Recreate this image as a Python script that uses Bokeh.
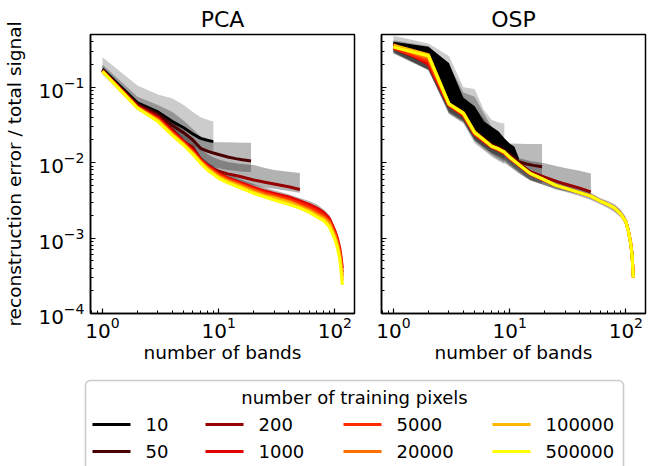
from bokeh.plotting import figure
from bokeh.layouts import column, row
from bokeh.models import Range1d, Quad
from bokeh.core.properties import value
from bokeh.embed import file_html
from bokeh.resources import INLINE

# ---------------- data ----------------
pixels = ["10", "50", "200", "1000", "5000", "20000", "100000", "500000"]
colors = ["#000000", "#4a0000", "#950000", "#e00000", "#ff2a00", "#ff7000", "#ffb800", "#ffff00"]

bands_10 = [1, 2, 3, 4, 5, 6, 7, 8, 9]
bands_50 = [1, 2, 3, 4, 5, 6, 7, 8, 9, 10, 12, 14, 16, 19]
bands_200 = [1, 2, 3, 4, 5, 6, 7, 8, 9, 10, 12, 15, 20, 25, 30, 40, 50]
bands_all = [1, 2, 3, 4, 5, 6, 7, 8, 9, 10, 12, 15, 20, 25, 30, 40, 50, 60, 70, 80, 90, 100, 105, 110, 113, 116]
bands_dark = [1, 2, 3, 4, 5, 6, 7, 8, 9, 10, 11, 12]

# PCA median curves
pca_10 = [0.172, 0.062, 0.047, 0.035, 0.029, 0.024, 0.021, 0.0198, 0.019]
pca_50 = [0.168, 0.059, 0.044, 0.031, 0.025, 0.020, 0.0155, 0.0142, 0.0134, 0.0128, 0.0119, 0.0113, 0.0109, 0.0105]
pca_200 = [0.166, 0.057, 0.041, 0.027, 0.019, 0.016, 0.011, 0.0093, 0.0083, 0.0077, 0.0071, 0.0066, 0.0059, 0.0055, 0.0052, 0.0048, 0.0044]
pca_1000 = [0.165, 0.055, 0.039, 0.026, 0.0190, 0.0145, 0.0110, 0.0092, 0.0081, 0.0072, 0.0063, 0.0055, 0.0047, 0.0042, 0.0039, 0.0035, 0.0031, 0.0028, 0.0025, 0.0022, 0.0018, 0.00125, 0.0010, 0.00075, 0.00057, 0.00040]
pca_5000 = [0.164, 0.054, 0.038, 0.025, 0.0184, 0.0140, 0.0107, 0.0089, 0.0078, 0.0070, 0.0061, 0.0053, 0.0045, 0.0040, 0.0037, 0.0033, 0.0029, 0.0026, 0.0023, 0.0020, 0.0017, 0.00117, 0.00093, 0.00069, 0.00051, 0.00035]
pca_20000 = [0.164, 0.054, 0.037, 0.024, 0.0179, 0.0136, 0.0104, 0.0086, 0.0075, 0.0067, 0.0058, 0.0051, 0.0043, 0.0038, 0.0035, 0.0031, 0.0027, 0.0024, 0.0021, 0.0019, 0.0016, 0.00110, 0.00087, 0.00063, 0.00046, 0.00031]
pca_100000 = [0.163, 0.053, 0.036, 0.0235, 0.0174, 0.0132, 0.0101, 0.0083, 0.0072, 0.0065, 0.0056, 0.0049, 0.0041, 0.0036, 0.0034, 0.0030, 0.0026, 0.0023, 0.0020, 0.0018, 0.0015, 0.00103, 0.00081, 0.00058, 0.00042, 0.00027]
pca_500000 = [0.162, 0.053, 0.035, 0.023, 0.0170, 0.0128, 0.0098, 0.0080, 0.0070, 0.0062, 0.0054, 0.0047, 0.0039, 0.0035, 0.0032, 0.0028, 0.0025, 0.0022, 0.0019, 0.0017, 0.0014, 0.00096, 0.00075, 0.00053, 0.00037, 0.00024]

# PCA spread (lower / upper)
pca_10_lo = [0.150, 0.052, 0.040, 0.027, 0.021, 0.017, 0.0145, 0.0135, 0.013]
pca_10_hi = [0.25, 0.105, 0.080, 0.071, 0.058, 0.047, 0.040, 0.037, 0.035]
pca_50_lo = [0.150, 0.052, 0.036, 0.024, 0.019, 0.0140, 0.0105, 0.0092, 0.0087, 0.0084, 0.0080, 0.0078, 0.0076, 0.0075]
pca_50_hi = [0.20, 0.075, 0.058, 0.047, 0.036, 0.028, 0.022, 0.0195, 0.0188, 0.0186, 0.0186, 0.0185, 0.0184, 0.0183]
pca_200_lo = [0.15, 0.052, 0.036, 0.023, 0.017, 0.0130, 0.0095, 0.0080, 0.0072, 0.0067, 0.0060, 0.0055, 0.0050, 0.0047, 0.0045, 0.0042, 0.0040]
pca_200_hi = [0.19, 0.065, 0.048, 0.034, 0.026, 0.020, 0.015, 0.013, 0.0118, 0.0110, 0.0102, 0.0097, 0.0093, 0.0085, 0.0080, 0.0076, 0.0073]
pca_all_lo = [0.155, 0.050, 0.034, 0.022, 0.0163, 0.0123, 0.0094, 0.0077, 0.0067, 0.0060, 0.0052, 0.0045, 0.0038, 0.0034, 0.0031, 0.0027, 0.0024, 0.0021, 0.00185, 0.00163, 0.00134, 0.00092, 0.00072, 0.00051, 0.00036, 0.00023]
pca_all_hi = [0.18, 0.060, 0.043, 0.029, 0.021, 0.016, 0.0122, 0.0102, 0.0090, 0.0080, 0.0070, 0.0061, 0.0052, 0.0047, 0.0043, 0.0038, 0.0034, 0.0031, 0.0028, 0.0024, 0.0020, 0.00140, 0.00112, 0.00083, 0.00063, 0.00044]

# OSP median curves
osp_10 = [0.37, 0.32, 0.15, 0.060, 0.045, 0.030, 0.025, 0.021, 0.018]
osp_50 = [0.33, 0.23, 0.060, 0.046, 0.026, 0.021, 0.0175, 0.016, 0.0145, 0.0128, 0.0103, 0.0096, 0.0092, 0.0088]
osp_200 = [0.33, 0.21, 0.058, 0.044, 0.025, 0.020, 0.0168, 0.0152, 0.0138, 0.0120, 0.0098, 0.0076, 0.0064, 0.0057, 0.0052, 0.0046, 0.0041]
osp_1000 = [0.37, 0.20, 0.057, 0.042, 0.0235, 0.019, 0.0160, 0.0146, 0.0133, 0.0114, 0.0092, 0.0071, 0.0058, 0.0050, 0.0046, 0.0040, 0.0036, 0.0031, 0.0028, 0.0025, 0.0021, 0.00167, 0.00127, 0.00087, 0.00062, 0.00031]
osp_5000 = [0.33, 0.22, 0.058, 0.043, 0.024, 0.0195, 0.0162, 0.0148, 0.0135, 0.0116, 0.0093, 0.0071, 0.0058, 0.0050, 0.0046, 0.0040, 0.0036, 0.0031, 0.0028, 0.0025, 0.0021, 0.00166, 0.00126, 0.00086, 0.00061, 0.00030]
osp_20000 = [0.35, 0.24, 0.059, 0.044, 0.0245, 0.0198, 0.0164, 0.0150, 0.0137, 0.0117, 0.0094, 0.0072, 0.0059, 0.0050, 0.0046, 0.0040, 0.0036, 0.0031, 0.0028, 0.0025, 0.0021, 0.00165, 0.00125, 0.00085, 0.0006, 0.0003]
osp_100000 = [0.36, 0.27, 0.061, 0.046, 0.0255, 0.0202, 0.0166, 0.0153, 0.0139, 0.0119, 0.0095, 0.0072, 0.0059, 0.0050, 0.0046, 0.0040, 0.0036, 0.0031, 0.0028, 0.0025, 0.0021, 0.00165, 0.00125, 0.00085, 0.0006, 0.0003]
osp_500000 = [0.34, 0.26, 0.060, 0.045, 0.025, 0.020, 0.0165, 0.0152, 0.0138, 0.0118, 0.0094, 0.0072, 0.0059, 0.0050, 0.0046, 0.0040, 0.0036, 0.0031, 0.0028, 0.0025, 0.0021, 0.00165, 0.00125, 0.00085, 0.0006, 0.00030]

# OSP spread (lower / upper)
osp_10_lo = [0.28, 0.166, 0.044, 0.033, 0.018, 0.0145, 0.012, 0.0105, 0.0095]
osp_10_hi = [0.48, 0.38, 0.26, 0.10, 0.095, 0.050, 0.037, 0.034, 0.033]
osp_50_lo = [0.28, 0.17, 0.045, 0.034, 0.019, 0.015, 0.0125, 0.011, 0.0100, 0.0088, 0.0072, 0.0062, 0.0057, 0.0053]
osp_50_hi = [0.42, 0.35, 0.20, 0.085, 0.075, 0.045, 0.030, 0.024, 0.020, 0.0180, 0.0178, 0.0177, 0.0177, 0.0177]
osp_200_lo = [0.29, 0.17, 0.046, 0.035, 0.020, 0.016, 0.0132, 0.0118, 0.0105, 0.0092, 0.0074, 0.0058, 0.0050, 0.0045, 0.0042, 0.0038, 0.0035]
osp_200_hi = [0.38, 0.30, 0.14, 0.075, 0.055, 0.038, 0.028, 0.022, 0.018, 0.015, 0.0115, 0.0105, 0.0098, 0.0090, 0.0085, 0.0078, 0.0072]
osp_all_lo = [0.29, 0.17, 0.048, 0.036, 0.020, 0.016, 0.0135, 0.0123, 0.0112, 0.0096, 0.0077, 0.0059, 0.0050, 0.0044, 0.0041, 0.0036, 0.0032, 0.0028, 0.0025, 0.0022, 0.0019, 0.0015, 0.00112, 0.00076, 0.00054, 0.00027]
osp_all_hi = [0.40, 0.30, 0.085, 0.055, 0.031, 0.024, 0.020, 0.0175, 0.0155, 0.0132, 0.0104, 0.0080, 0.0065, 0.0056, 0.0051, 0.0045, 0.0040, 0.0034, 0.0031, 0.0028, 0.0024, 0.0019, 0.00142, 0.00097, 0.00068, 0.00034]
# dark (10-pixel trial) envelope in OSP
osp_dark_lo = [0.33, 0.25, 0.062, 0.046, 0.027, 0.021, 0.017, 0.0155, 0.0140, 0.0120, 0.0105, 0.0100]
osp_dark_hi = [0.40, 0.345, 0.21, 0.072, 0.056, 0.035, 0.030, 0.026, 0.021, 0.018, 0.0163, 0.0115]

pca_lines = [pca_10, pca_50, pca_200, pca_1000, pca_5000, pca_20000, pca_100000, pca_500000]
osp_lines = [osp_10, osp_50, osp_200, osp_1000, osp_5000, osp_20000, osp_100000, osp_500000]
line_x = [bands_10, bands_50, bands_200] + [bands_all] * 5

pca_fills = [(bands_10, pca_10_lo, pca_10_hi), (bands_50, pca_50_lo, pca_50_hi),
             (bands_200, pca_200_lo, pca_200_hi), (bands_all, pca_all_lo, pca_all_hi)]
osp_fills = [(bands_10, osp_10_lo, osp_10_hi), (bands_50, osp_50_lo, osp_50_hi),
             (bands_200, osp_200_lo, osp_200_hi), (bands_all, osp_all_lo, osp_all_hi)]
fill_alphas = [0.2, 0.27, 0.3, 0.3]

FONT = "DejaVu Sans"


def make_panel(title, width, ml, mr, show_ylabels):
    p = figure(width=width, height=370, x_axis_type="log", y_axis_type="log",
               x_range=Range1d(0.789, 147.6), y_range=Range1d(1e-4, 0.5),
               output_backend="svg", toolbar_location=None,
               min_border_left=ml, min_border_right=mr,
               min_border_top=34, min_border_bottom=57)
    p.title.text = title
    p.title.align = "center"
    p.title.text_font = FONT
    p.title.text_font_size = "22px"
    p.title.text_font_style = "normal"
    p.title.text_color = "black"
    p.title.standoff = 6
    p.grid.visible = False
    p.outline_line_color = "black"
    p.outline_line_width = 1.5
    p.background_fill_color = "white"
    p.border_fill_color = "white"
    for ax in (p.xaxis[0], p.yaxis[0]):
        ax.ticker.num_minor_ticks = 10
        ax.major_tick_in = 5
        ax.major_tick_out = 0
        ax.minor_tick_in = 3
        ax.minor_tick_out = 0
        ax.major_tick_line_width = 1.2
        ax.minor_tick_line_width = 1
        ax.major_tick_line_color = "black"
        ax.minor_tick_line_color = "black"
        ax.axis_line_width = 1.5
        ax.axis_line_color = "black"
        ax.major_label_text_font = FONT
        ax.major_label_text_font_size = "20px"
        ax.major_label_text_color = "black"
        ax.axis_label_text_font = FONT
        ax.axis_label_text_font_size = "18.5px"
        ax.axis_label_text_font_style = "normal"
        ax.axis_label_text_color = "black"
    p.xaxis.axis_label = "number of bands"
    p.xaxis.major_label_standoff = 3
    p.xaxis.axis_label_standoff = 1
    if show_ylabels:
        p.yaxis.axis_label = "reconstruction error / total signal"
        p.yaxis.major_label_standoff = 6
        p.yaxis.axis_label_standoff = 10
    else:
        p.yaxis.major_label_text_font_size = "2px"
        p.yaxis.major_label_text_alpha = 0
        p.yaxis.major_label_standoff = 0
    return p


def draw(p, lines, fills, dark=None):
    for (xs, lo, hi), a in zip(fills, fill_alphas):
        p.varea(x=xs, y1=lo, y2=hi, fill_color="black", fill_alpha=a)
    if dark is not None:
        xs, lo, hi = dark
        p.varea(x=xs, y1=lo, y2=hi, fill_color="black", fill_alpha=1.0)
    for xs, ys, c in zip(line_x, lines, colors):
        p.line(x=xs, y=ys, line_color=c, line_width=3, line_join="round")


p1 = make_panel("PCA", 368, 90, 14, True)
draw(p1, pca_lines, pca_fills)
p2 = make_panel("OSP", 300, 13, 23, False)
draw(p2, osp_lines, osp_fills, dark=(bands_dark, osp_dark_lo, osp_dark_hi))

# ---------------- legend ----------------
leg = figure(width=668, height=96, x_range=Range1d(0, 668), y_range=Range1d(96, 0),
             x_axis_location=None, y_axis_location=None, min_border=0,
             output_backend="svg", toolbar_location=None)
leg.outline_line_color = None
leg.grid.visible = False
leg.background_fill_color = "white"
leg.border_fill_color = "white"

box_kw = {}
if "border_radius" in Quad.properties():
    box_kw["border_radius"] = 5
leg.quad(left=[85], right=[623], top=[10], bottom=[130], fill_color="white",
         line_color="#cccccc", line_width=1.6, **box_kw)
leg.text(x=[354], y=[27], text=["number of training pixels"], text_font=value(FONT),
         text_font_size=value("18px"), text_align="center", text_baseline="middle",
         text_color="black")

col_x = [92, 205, 343, 492]
row_y = [54, 81]
seg_len = 38
x0s, x1s, ys, tx = [], [], [], []
for i, lab in enumerate(pixels):
    cx = col_x[i // 2]
    cy = row_y[i % 2]
    x0s.append(cx)
    x1s.append(cx + seg_len)
    ys.append(cy)
    tx.append(cx + seg_len + 15)
leg.segment(x0=x0s, y0=ys, x1=x1s, y1=ys, line_color=colors, line_width=3.2)
leg.text(x=tx, y=ys, text=pixels, text_font=value(FONT), text_font_size=value("18px"),
         text_align="left", text_baseline="middle", text_color="black")

layout = column(row(p1, p2), leg)
open("out.html", "w").write(file_html(layout, INLINE))
